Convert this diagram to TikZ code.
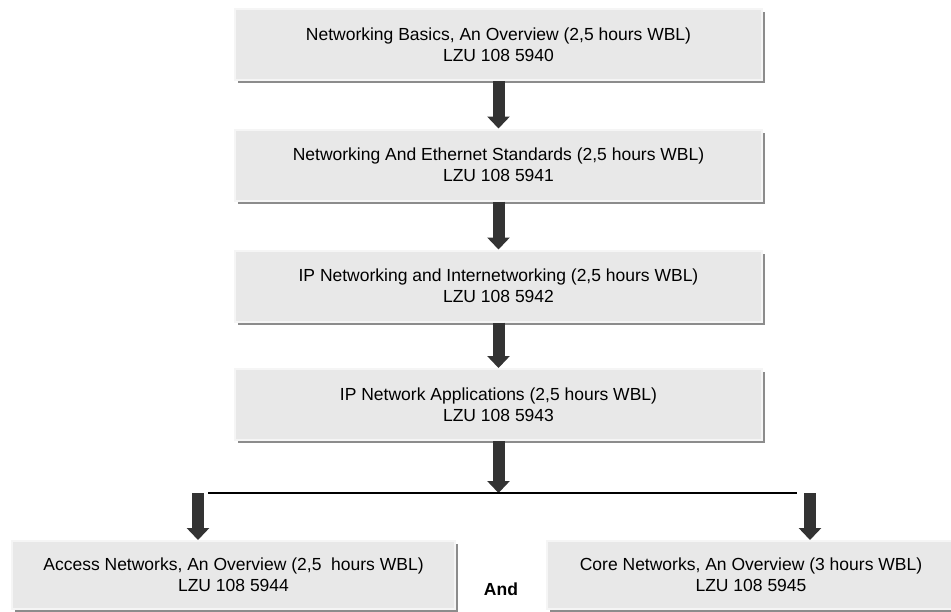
\documentclass[tikz,border=0pt]{standalone}
\usepackage{fontspec}
\setmainfont{Liberation Sans}
\usepackage{xcolor}
\usepackage{tikz}
\usetikzlibrary{positioning, arrows.meta, shadows}

\begin{document}
\begin{tikzpicture}[
    x=1pt, y=-1pt,
    font=\fontsize{17.5}{21}\selectfont,
    cbox/.style={draw=black!4, line width=2pt, fill=black!9, align=center,
                 inner sep=0pt, minimum width=527pt, minimum height=71pt,
                 drop shadow={shadow xshift=3pt, shadow yshift=-3pt,
                              fill=black!45, opacity=1}},
    bigarrow/.style={draw=black!80, line width=12pt,
                     -{Triangle[width=22pt,length=12pt]}},
]
  \useasboundingbox (0,0) rectangle (951,611);
  % Course chain
  \node[cbox] (basics) at (498.5,44.5)
       {Networking Basics, An Overview (2,5 hours WBL)\\LZU 108 5940};
  \node[cbox] (ether) at (498.5,165)
       {Networking And Ethernet Standards (2,5 hours WBL)\\LZU 108 5941};
  \node[cbox] (ipnet) at (498.5,286)
       {IP Networking and Internetworking (2,5 hours WBL)\\LZU 108 5942};
  \node[cbox] (ipapp) at (498.5,404.5)
       {IP Network Applications (2,5 hours WBL)\\LZU 108 5943};
  % Split
  \coordinate (split) at (498.5,493);
  \coordinate (splitL) at (208,493);
  \coordinate (splitR) at (797,493);
  \coordinate (dropL) at (198,493);
  \coordinate (dropR) at (810,493);
  % Last two courses
  \node[cbox, minimum width=443pt, minimum height=68pt] (access) at (233.5,575)
       {Access Networks, An Overview (2,5\ \ hours WBL)\\LZU 108 5944};
  \node[cbox, minimum width=408pt, minimum height=68pt] (core) at (751,575)
       {Core Networks, An Overview (3 hours WBL)\\LZU 108 5945};
  \node[font=\fontsize{17.5}{21}\selectfont\bfseries, anchor=base] (and) at (501,595) {And};
  % Arrows
  \draw[bigarrow] (basics) -- (ether);
  \draw[bigarrow] (ether) -- (ipnet);
  \draw[bigarrow] (ipnet) -- (ipapp);
  \draw[bigarrow] (ipapp) -- (split);
  \draw[line width=1.5pt] (splitL) -- (splitR);
  \draw[bigarrow] (dropL) -- (dropL |- access.north);
  \draw[bigarrow] (dropR) -- (dropR |- core.north);
\end{tikzpicture}
\end{document}
